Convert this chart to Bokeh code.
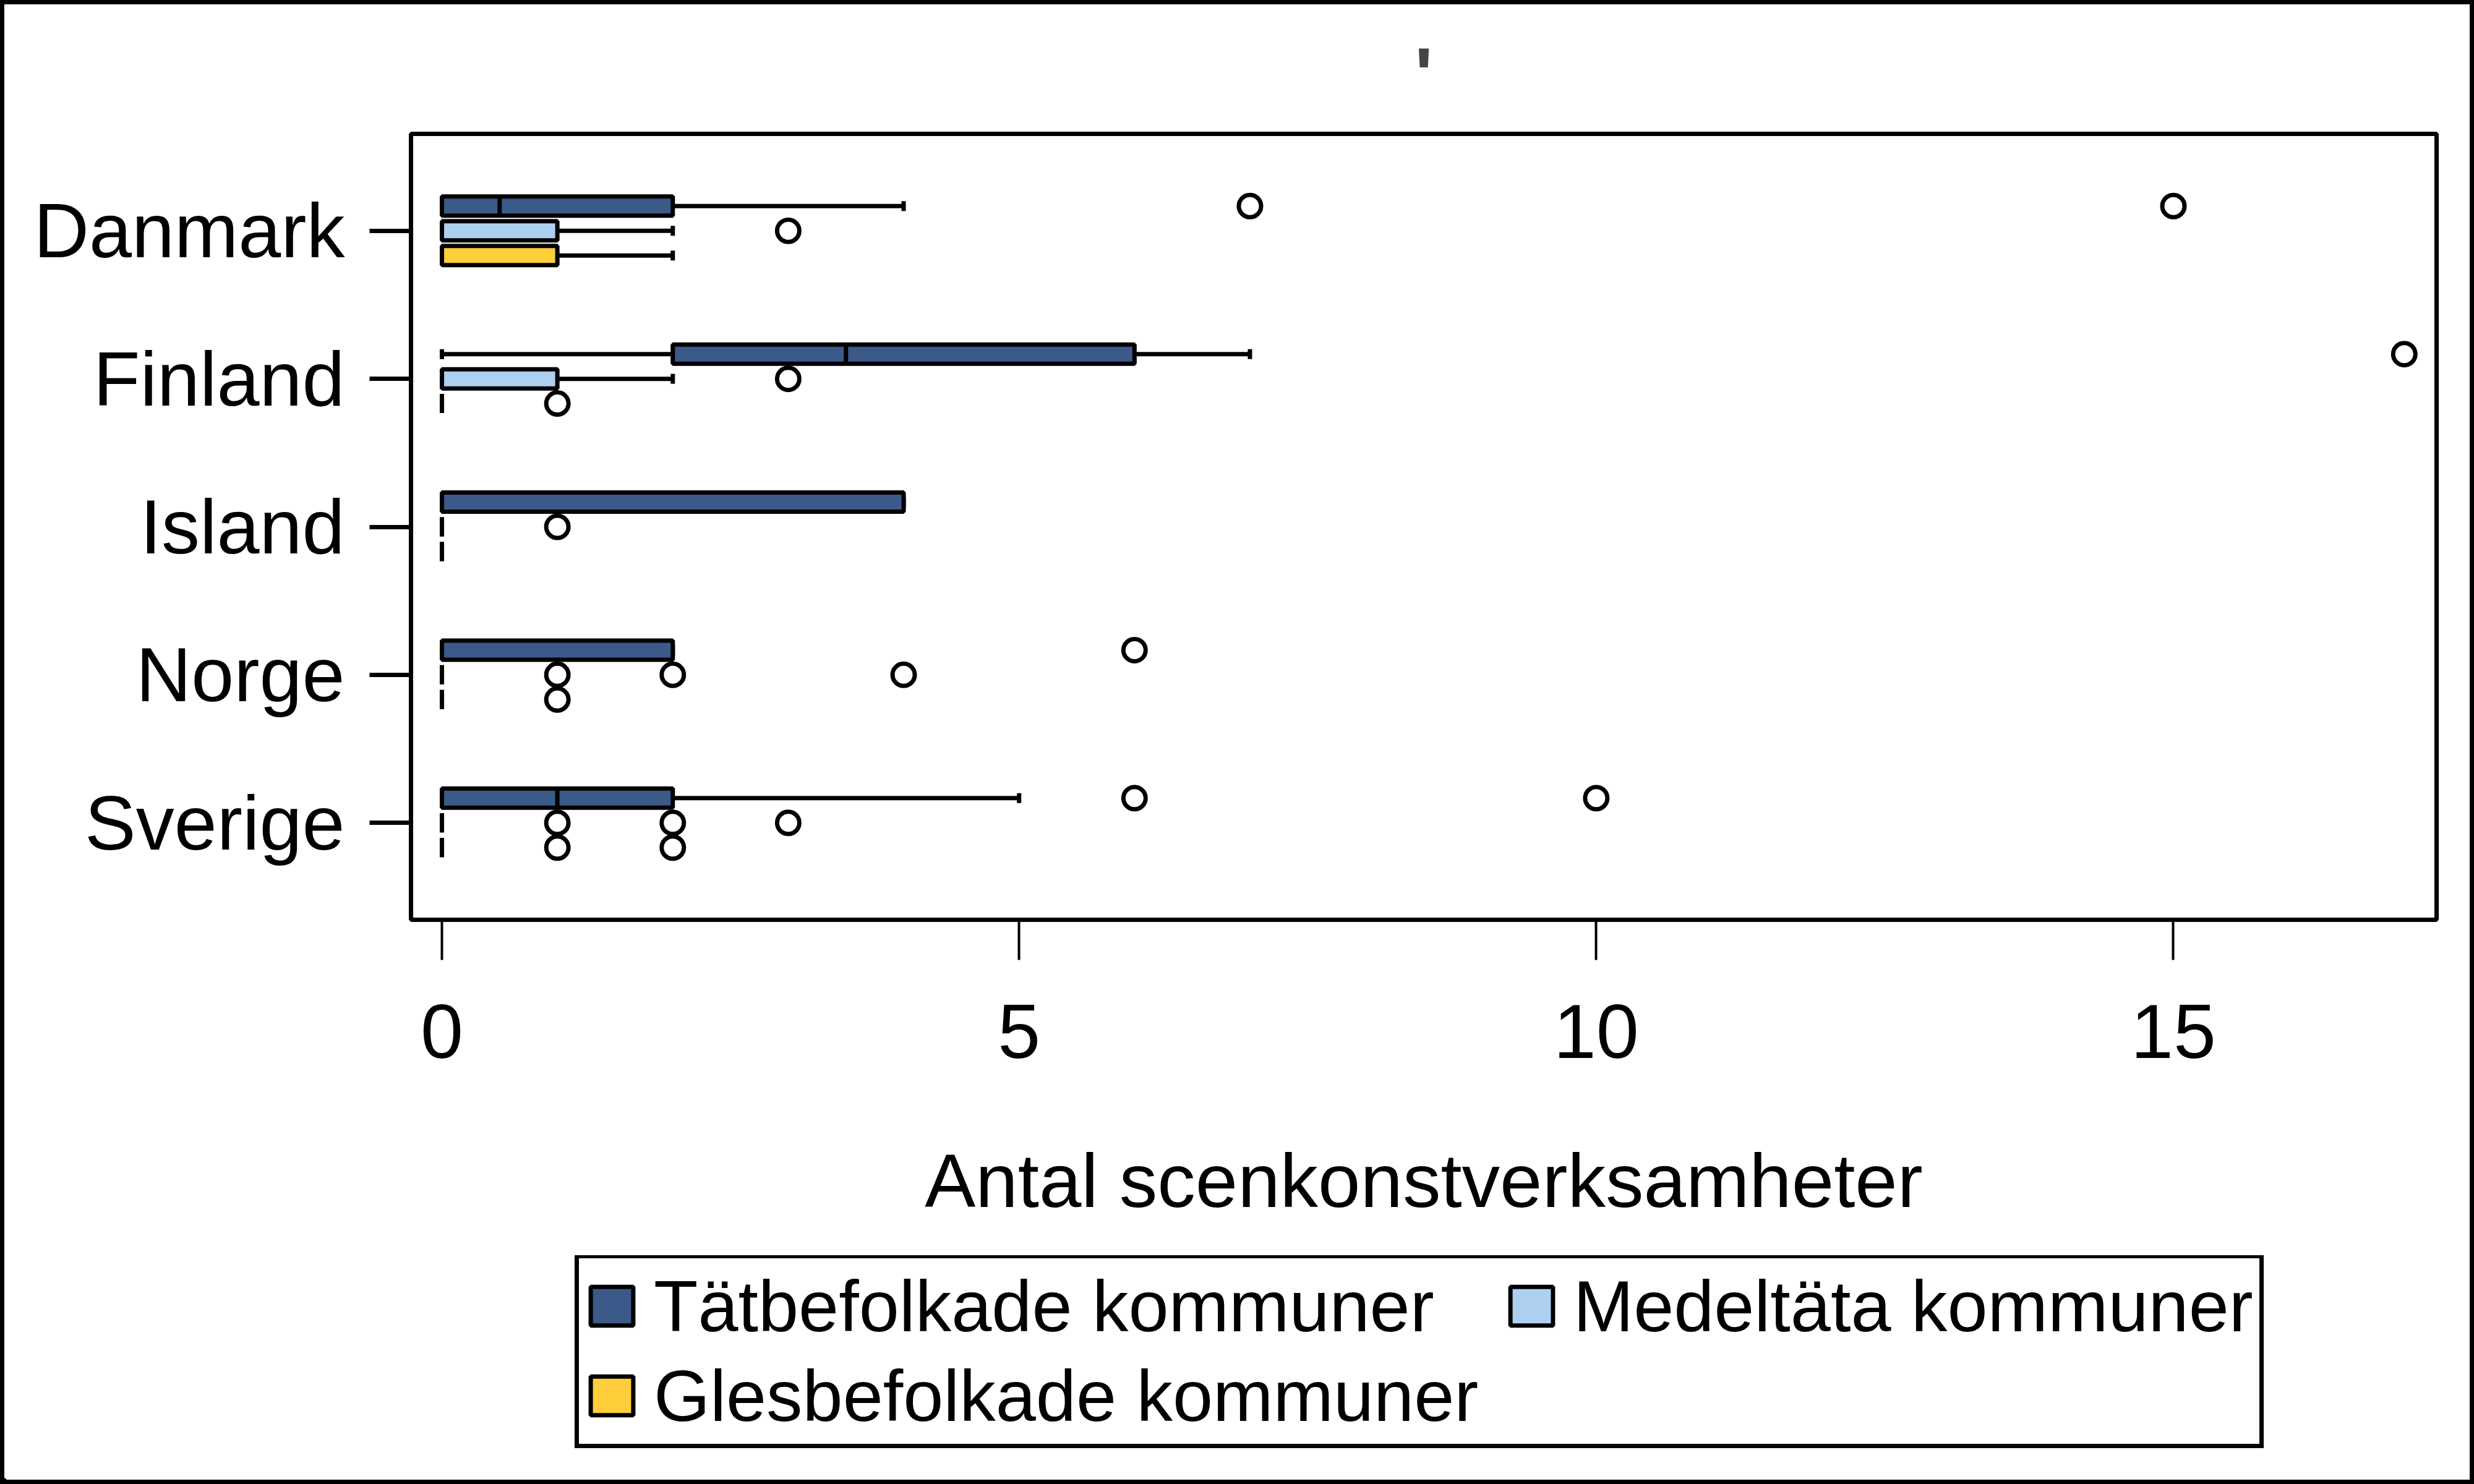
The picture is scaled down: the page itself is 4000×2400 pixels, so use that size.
from bokeh.plotting import figure
from bokeh.models import (ColumnDataSource, FactorRange, Range1d, FixedTicker,
                          Legend, LegendItem, Column)
from bokeh.transform import dodge
from bokeh.embed import file_html
from bokeh.resources import INLINE

# ---------------- data ----------------
countries = ["Danmark", "Finland", "Island", "Norge", "Sverige"]
groups = ["Tätbefolkade kommuner", "Medeltäta kommuner", "Glesbefolkade kommuner"]
colors = ["#3B5A89", "#AED0F0", "#FFCE3A"]

tat_q1 = [0, 2, 0, 0, 0]
tat_med = [0.5, 3.5, 0, 0, 1]
tat_q3 = [2, 6, 4, 2, 2]
tat_lo = [0, 0, 0, 0, 0]
tat_hi = [4, 7, 4, 2, 5]
tat_out = [[7, 15], [17], [], [6], [6, 10]]

medel_q1 = [0, 0, 0, 0, 0]
medel_med = [0, 0, 0, 0, 0]
medel_q3 = [1, 1, 0, 0, 0]
medel_lo = [0, 0, 0, 0, 0]
medel_hi = [2, 2, 0, 0, 0]
medel_out = [[3], [3], [1], [1, 2, 4], [1, 2, 3]]

gles_q1 = [0, 0, 0, 0, 0]
gles_med = [0, 0, 0, 0, 0]
gles_q3 = [1, 0, 0, 0, 0]
gles_lo = [0, 0, 0, 0, 0]
gles_hi = [2, 0, 0, 0, 0]
gles_out = [[], [1], [], [1], [1, 2]]

x_ticks = [0, 5, 10, 15]
x_title = "Antal scenkonstverksamheter"
title_text = "'"

series = [
    (tat_q1, tat_med, tat_q3, tat_lo, tat_hi, tat_out),
    (medel_q1, medel_med, medel_q3, medel_lo, medel_hi, medel_out),
    (gles_q1, gles_med, gles_q3, gles_lo, gles_hi, gles_out),
]
offsets = [0.167, 0.0, -0.167]

FONT = "Liberation Sans"
BORDER = 7
W = 4000 - 2 * BORDER
SPLIT = 2030                     # window y where legend strip starts
H1 = SPLIT - BORDER
H2 = 2400 - BORDER - SPLIT

p = figure(width=W, height=H1, output_backend="svg", toolbar_location=None,
           x_range=Range1d(-0.268, 17.28),
           y_range=FactorRange(factors=countries[::-1], range_padding=0.062,
                               range_padding_units="percent"),
           min_border_left=657, min_border_right=54, min_border_top=209,
           min_border_bottom=SPLIT - 1487)

p.background_fill_color = "white"
p.border_fill_color = "white"
p.outline_line_color = "black"
p.outline_line_width = 7
p.outline_line_alpha = 1
p.xgrid.visible = False
p.ygrid.visible = False

p.title.text = title_text
p.title.align = "center"
p.title.text_font = FONT
p.title.text_font_size = "122px"
p.title.text_font_style = "bold"
p.title.standoff = 55

box_h = 0.1295
cap_half = 0.0334
med_half = 0.0647

for (q1, med, q3, lo, hi, outs), off, col, name in zip(series, offsets, colors, groups):
    src = ColumnDataSource(dict(country=countries, q1=q1, med=med, q3=q3, lo=lo, hi=hi))
    yc = dodge("country", off, range=p.y_range)
    # whiskers
    p.segment(x0="lo", x1="q1", y0=yc, y1=yc, source=src,
              line_color="black", line_width=7)
    p.segment(x0="q3", x1="hi", y0=yc, y1=yc, source=src,
              line_color="black", line_width=7)
    # caps
    for fld in ("lo", "hi"):
        p.segment(x0=fld, x1=fld, y0=dodge("country", off - cap_half, range=p.y_range),
                  y1=dodge("country", off + cap_half, range=p.y_range), source=src,
                  line_color="black", line_width=7)
    # box
    p.hbar(y=yc, left="q1", right="q3",
           height=box_h, source=src, fill_color=col, line_color="black",
           line_width=7)
    # median
    p.segment(x0="med", x1="med", y0=dodge("country", off - med_half, range=p.y_range),
              y1=dodge("country", off + med_half, range=p.y_range), source=src,
              line_color="black", line_width=7)
    # outliers
    oc, ov = [], []
    for c, vals in zip(countries, outs):
        for v in vals:
            oc.append(c)
            ov.append(v)
    osrc = ColumnDataSource(dict(country=oc, val=ov))
    p.scatter(x="val", y=dodge("country", off, range=p.y_range), source=osrc,
              marker="circle", size=36, fill_color="white", line_color="black",
              line_width=7)

# axes
p.xaxis.ticker = FixedTicker(ticks=x_ticks)
p.xaxis.axis_label = x_title
for ax in (p.xaxis[0], p.yaxis[0]):
    ax.axis_line_color = None
    ax.major_tick_line_color = "black"
    ax.major_tick_in = 0
    ax.minor_tick_line_color = None
    ax.major_label_text_font = FONT
    ax.major_label_text_font_size = "124px"
    ax.major_label_text_color = "black"
p.xaxis.major_tick_line_width = 4
p.yaxis.major_tick_line_width = 7
p.xaxis.major_tick_out = 65
p.yaxis.major_tick_out = 67
p.xaxis.major_label_standoff = 72
p.yaxis.major_label_standoff = 40
p.xaxis.axis_label_text_font = FONT
p.xaxis.axis_label_text_font_size = "123px"
p.xaxis.axis_label_text_font_style = "normal"
p.xaxis.axis_label_text_color = "black"
p.xaxis.axis_label_standoff = 127

# ---- legend strip (second figure directly below) ----
p2 = figure(width=W, height=H2, output_backend="svg", toolbar_location=None,
            x_range=Range1d(0, 1), y_range=Range1d(0, 1),
            x_axis_location=None, y_axis_location=None,
            min_border_left=0, min_border_right=0, min_border_top=0,
            min_border_bottom=0)
frame_x0 = 0
try:
    p2.frame_align = False
except Exception:
    frame_x0 = 657
p2.outline_line_color = None
p2.background_fill_color = "white"
p2.border_fill_color = "white"
p2.grid.visible = False

# first legend column is a little wider in the reference than its longest label
legend_labels = [groups[0], groups[1], groups[2] + " "]

legend_items = []
for col, name in zip(colors, legend_labels):
    # swatch source placed outside the visible range: only the legend shows it
    r = p2.hbar(y=[-5], left=[-5], right=[-4], height=0.1, fill_color=col,
                line_color="black", line_width=7)
    legend_items.append(LegendItem(label=name, renderers=[r]))

LEG_H = 305
legend = Legend(items=legend_items, orientation="horizontal", ncols=2,
                location=(922 - frame_x0, H2 - 6.5 - LEG_H),
                label_text_font=FONT, label_text_font_size="117px",
                label_text_color="black",
                glyph_width=86, glyph_height=78, label_standoff=25,
                padding=10, spacing=10, margin=0,
                border_line_color="black", border_line_width=7,
                border_line_alpha=1,
                background_fill_color="white", background_fill_alpha=1)
p2.add_layout(legend, "center")

layout = Column(children=[p, p2], spacing=0,
                styles={"border": "7px solid black"})

open("out.html", "w").write(file_html(layout, INLINE))
